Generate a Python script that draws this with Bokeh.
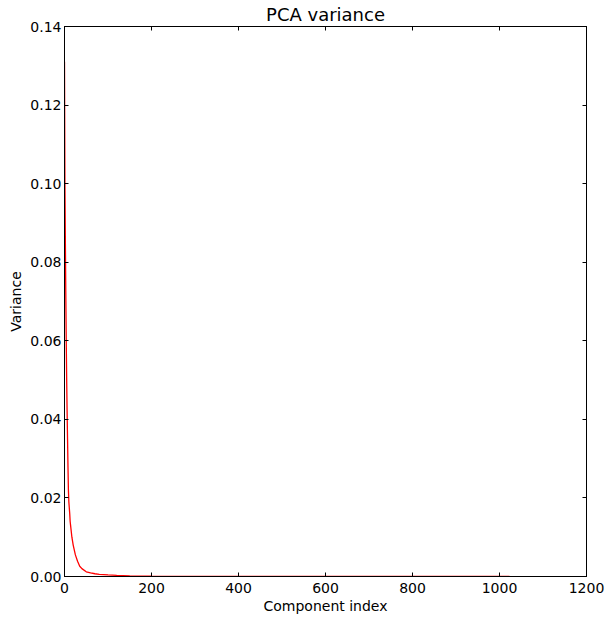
from bokeh.plotting import figure
from bokeh.models import LinearAxis, FixedTicker, PrintfTickFormatter, CustomJSTickFormatter, Range1d
from bokeh.embed import file_html
from bokeh.resources import INLINE

# Component indices where the variance curve was read, and the read values
component_index = [0, 1, 2, 3, 4, 5, 6, 7, 8, 9, 10, 11, 12, 13, 14, 15, 17, 20, 25, 30,
                   35, 40, 50, 60, 70, 80, 100, 120, 150, 200, 300, 400, 500, 600, 700,
                   800, 900, 1000, 1023]
variance = [0.131, 0.100, 0.085, 0.072, 0.060, 0.050, 0.042, 0.035, 0.028, 0.022, 0.019,
            0.0175, 0.016, 0.014, 0.013, 0.012, 0.0100, 0.0080, 0.0055, 0.0039, 0.0026,
            0.0020, 0.0012, 0.0009, 0.0007, 0.00055, 0.0004, 0.00028, 0.00018, 0.0001,
            0.00005, 0.00003, 0.00002, 0.000012, 0.000008, 0.000005, 0.000003, 0.000001,
            0.0000005]

x_ticks = [0, 200, 400, 600, 800, 1000, 1200]
y_ticks = [0.0, 0.02, 0.04, 0.06, 0.08, 0.10, 0.12, 0.14]

FONT = "DejaVu Sans"

p = figure(output_backend="svg", toolbar_location=None,
           frame_width=522, frame_height=550,
           x_range=Range1d(0, 1200), y_range=Range1d(0, 0.14),
           title="PCA variance",
           min_border_left=64, min_border_right=22, min_border_top=26, min_border_bottom=42,
           x_axis_label="Component index", y_axis_label="Variance")

p.background_fill_color = "white"
p.border_fill_color = "white"
p.outline_line_color = "black"
p.xgrid.visible = False
p.ygrid.visible = False

p.title.align = "center"
p.title.text_font = FONT
p.title.text_font_size = "18px"
p.title.text_font_style = "normal"
p.title.text_color = "black"
p.title.standoff = 3
p.title.offset = 0

p.line(component_index, variance, line_color="red", line_width=1.3)

def style_axis(ax, ticks, show_labels):
    ax.ticker = FixedTicker(ticks=ticks)
    ax.major_tick_in = 4
    ax.major_tick_out = 0
    ax.minor_tick_in = 0
    ax.minor_tick_out = 0
    ax.axis_line_color = "black"
    ax.major_tick_line_color = "black"
    ax.major_label_text_font = FONT
    ax.major_label_text_font_size = "14px"
    ax.major_label_text_color = "black"
    ax.axis_label_text_font = FONT
    ax.axis_label_text_font_size = "14px"
    ax.axis_label_text_font_style = "normal"
    ax.axis_label_text_color = "black"
    if not show_labels:
        ax.formatter = CustomJSTickFormatter(code="return ''")
        ax.major_label_standoff = 0

xa = p.xaxis[0]
style_axis(xa, x_ticks, True)
xa.major_label_standoff = 6
xa.axis_label_standoff = 2

ya = p.yaxis[0]
style_axis(ya, y_ticks, True)
ya.formatter = PrintfTickFormatter(format="%.2f")
ya.major_label_standoff = 3
ya.axis_label_standoff = 3

top = LinearAxis()
style_axis(top, x_ticks, False)
p.add_layout(top, "above")

right = LinearAxis()
style_axis(right, y_ticks, False)
p.add_layout(right, "right")

open("out.html", "w").write(file_html(p, INLINE))
